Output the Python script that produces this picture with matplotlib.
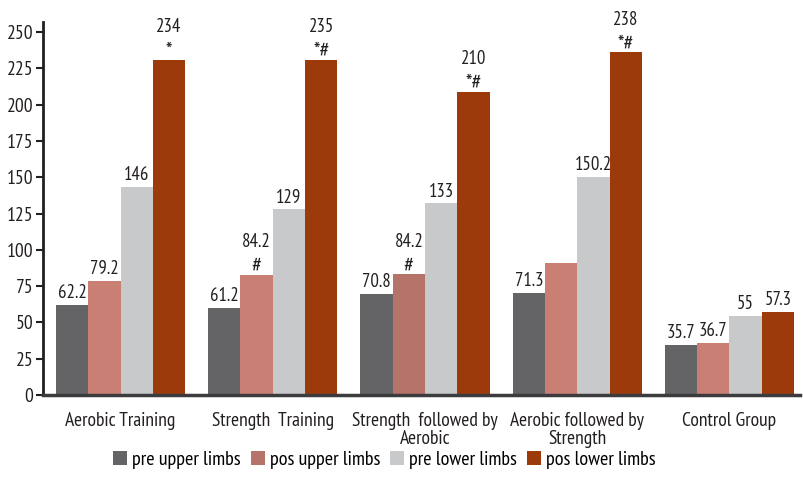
import matplotlib
matplotlib.use("Agg")
import matplotlib.pyplot as plt
from matplotlib.patches import Patch
import numpy as np

plt.rcParams["font.family"] = ["PT Sans Narrow", "Liberation Sans", "DejaVu Sans"]

groups = ["Aerobic Training", "Strength  Training", "Strength  followed by\nAerobic",
          "Aerobic followed by\nStrength", "Control Group"]
series = ["pre upper limbs", "pos upper limbs", "pre lower limbs", "pos lower limbs"]

# bar heights as drawn in the picture
pre_upper = [62.2, 60.0, 69.8, 70.4, 34.5]
pos_upper = [78.7, 82.9, 83.0, 91.0, 36.0]
pre_lower = [143.6, 127.8, 132.0, 150.5, 54.6]
pos_lower = [231.0, 231.0, 209.0, 236.0, 57.3]

# printed value labels and significance marks ("" = none)
pre_upper_lbl = ["62.2", "61.2", "70.8", "71.3", "35.7"]
pos_upper_lbl = ["79.2", "84.2", "84.2", "", "36.7"]
pre_lower_lbl = ["146", "129", "133", "150.2", "55"]
pos_lower_lbl = ["234", "235", "210", "238", "57.3"]
pos_upper_mark = ["", "#", "#", "", ""]
pos_lower_mark = ["*", "*#", "*#", "*#", ""]

colors = ["#646466", "#c97f74", "#c8c9cb", "#9d3a0c"]
legend_colors = ["#646466", "#b5736a", "#c8c9cb", "#9d3a0c"]
pos_upper_colors = ["#c97f74", "#c97f74", "#b5736a", "#c97f74", "#c97f74"]

fig = plt.figure(figsize=(8.04, 4.87), dpi=100)
ax = fig.add_axes([0.0535, 0.189, 0.9415, 0.766])

x = np.arange(len(groups))
w = 0.212
values = [pre_upper, pos_upper, pre_lower, pos_lower]
labels = [pre_upper_lbl, pos_upper_lbl, pre_lower_lbl, pos_lower_lbl]
marks = [[""] * 5, pos_upper_mark, [""] * 5, pos_lower_mark]

for i, (vals, lbls, mks) in enumerate(zip(values, labels, marks)):
    xs = x + (i - 1.5) * w
    col = pos_upper_colors if i == 1 else colors[i]
    ax.bar(xs, vals, width=w, color=col, linewidth=0, zorder=2)
    for xi, v, lb, mk in zip(xs, vals, lbls, mks):
        if mk:
            ax.annotate(mk, (xi, v), xytext=(0, -1), textcoords="offset points",
                        ha="center", va="bottom", fontsize=16, color="#231f20")
            ax.annotate(lb, (xi, v), xytext=(0, 17), textcoords="offset points",
                        ha="center", va="bottom", fontsize=13.5, color="#231f20")
        elif lb:
            ax.annotate(lb, (xi, v), xytext=(0, 2), textcoords="offset points",
                        ha="center", va="bottom", fontsize=13.5, color="#231f20")

ax.set_xlim(-0.509, 4.463)
ax.set_ylim(0, 257)
ax.set_yticks(np.arange(0, 251, 25))
ax.set_xticks(x)
ax.set_xticklabels(groups, fontsize=14, color="#231f20", linespacing=1.05)
ax.tick_params(axis="x", length=0, pad=12)
ax.tick_params(axis="y", direction="out", length=5, width=1.5, color="#231f20",
               labelsize=14, labelcolor="#231f20", pad=2)

for s in ["top", "right"]:
    ax.spines[s].set_visible(False)
ax.spines["left"].set_linewidth(2)
ax.spines["left"].set_color("#231f20")
ax.spines["bottom"].set_linewidth(2.5)
ax.spines["bottom"].set_color("#3c3c3e")
ax.spines["bottom"].set_zorder(3)

handles = [Patch(facecolor=c, edgecolor="none") for c in legend_colors]
fig.legend(handles, series, loc="center", bbox_to_anchor=(0.478, 0.056), ncol=4,
           frameon=False, fontsize=14.5, handlelength=0.7, handleheight=0.7,
           handletextpad=0.25, columnspacing=0.5, borderaxespad=0)

fig.savefig("out.png", dpi=100)
